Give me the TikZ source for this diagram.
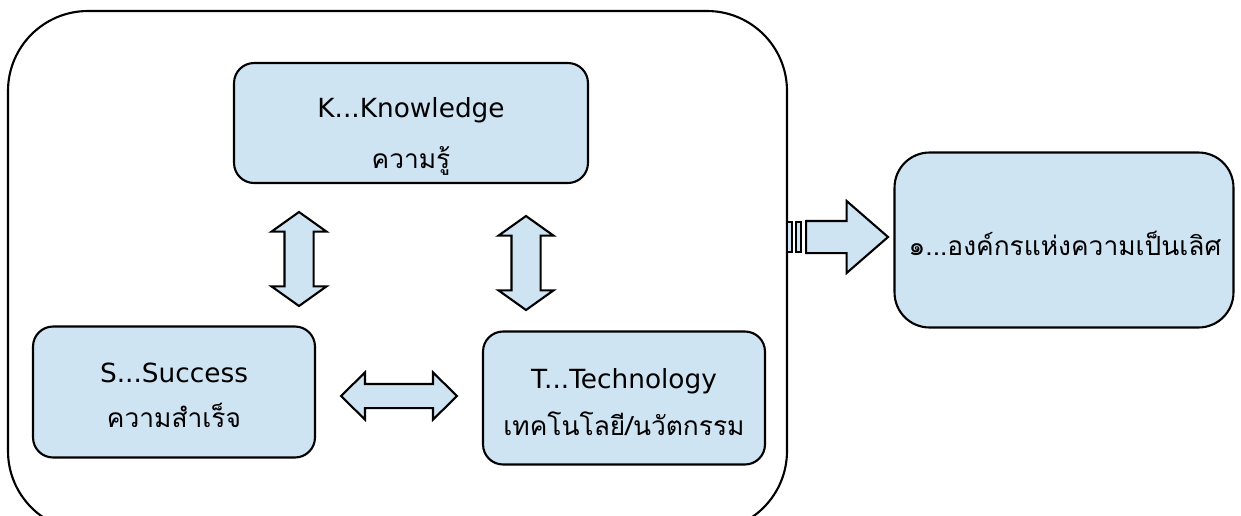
\documentclass[tikz,border=0pt]{standalone}
\usepackage{fontspec}
\setmainfont{Loma}[Script=Thai]
\newfontfamily\latinfont{DejaVu Sans}
\usetikzlibrary{shapes.arrows}
\definecolor{paleblue}{RGB}{207,228,243}
\tikzset{
  box/.style = {draw, fill = paleblue, line width = 1.2pt, rounded corners = 0.4cm},
  thline/.style = {anchor = base, font = \fontsize{15}{18}\selectfont},
  enline/.style = {anchor = base, font = \latinfont\fontsize{15}{18}\selectfont},
  block/.style = {draw, fill = paleblue, line width = 1.2pt},
  twoway/.style = {block, double arrow, inner sep = 0pt}
}
\begin{document}
\begin{tikzpicture}[x = 0.02cm, y = -0.02cm]
      \clip (0, 0) rectangle (1241, 515);
      \draw [line width = 1.2pt, rounded corners = 1.6cm] (8, 11) rectangle (787, 531);
      % the three boxes and the goal
      \node [box, minimum width = 7.08cm, minimum height = 2.4cm] (know) at (411, 123) {};
      \node [box, minimum width = 5.64cm, minimum height = 2.62cm] (succ) at (174, 392) {};
      \node [box, minimum width = 5.64cm, minimum height = 2.66cm] (tech) at (624, 398) {};
      \node [box, rounded corners = 0.7cm, minimum width = 6.78cm, minimum height = 3.5cm] (goal) at (1064, 240) {};
      \node [enline] (knowen) at (411, 117) {K...Knowledge};
      \node [thline] (knowth) at (411, 168) {ความรู้};
      \node [enline] (succen) at (174, 382) {S...Success};
      \node [thline] (succth) at (174, 427) {ความสำเร็จ};
      \node [enline] (techen) at (624, 388) {T...Technology};
      \node [thline] (techth) at (624, 435) {เทคโนโลยี/นวัตกรรม};
      \node [thline] (goalth) at (1065, 255) {๑...องค์กรแห่งความเป็นเลิศ};
      % block arrows
      \node [twoway, rotate = 90, minimum height = 1.88cm, inner ysep = 0.27cm,
        double arrow head extend = 0.26cm, double arrow tip angle = 109] (ks) at (299, 259) {};
      \node [twoway, rotate = 90, minimum height = 1.88cm, inner ysep = 0.27cm,
        double arrow head extend = 0.26cm, double arrow tip angle = 109] (kt) at (526, 263) {};
      \node [twoway, minimum height = 2.32cm, inner ysep = 0.22cm,
        double arrow head extend = 0.23cm, double arrow tip angle = 89] (st) at (399, 396) {};
      \foreach \xs in {787, 796}{
        \draw [block] (\xs, 222) rectangle ++(5, 30);
      }
      \node [block, single arrow, anchor = tail, inner sep = 0pt, minimum height = 1.64cm, inner ysep = 0.3cm,
        single arrow head extend = 0.4cm, single arrow tip angle = 82] (to) at (805, 237) {};
    \end{tikzpicture}
\end{document}
